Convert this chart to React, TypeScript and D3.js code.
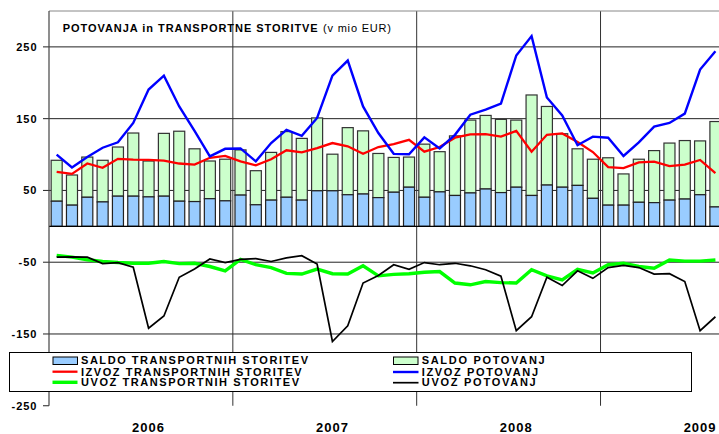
import React from "react";
import * as d3 from "d3";

// ---- data (v mio EUR), Jan 2006 – Aug 2009 ----
const months = [
  "2006-01","2006-02","2006-03","2006-04","2006-05","2006-06","2006-07","2006-08","2006-09","2006-10","2006-11","2006-12",
  "2007-01","2007-02","2007-03","2007-04","2007-05","2007-06","2007-07","2007-08","2007-09","2007-10","2007-11","2007-12",
  "2008-01","2008-02","2008-03","2008-04","2008-05","2008-06","2008-07","2008-08","2008-09","2008-10","2008-11","2008-12",
  "2009-01","2009-02","2009-03","2009-04","2009-05","2009-06","2009-07","2009-08",
];
const years = ["2006", "2007", "2008", "2009"];
const yTicks = [250, 150, 50, -50, -150, -250];

const saldoTransport = [
  35, 29.5, 40.5, 34, 42, 42, 41, 42, 35, 34.5, 38.5, 35.5,
  43.5, 30, 36.5, 40.5, 36.5, 49.5, 49.5, 44, 45, 40, 47.5, 54.5,
  40.5, 48, 43, 46.5, 52, 47, 54.5, 43, 57.5, 54.5, 57, 39,
  29.5, 29.5, 33.5, 33, 36.5, 38, 44, 27,
];
const saldoPotovanj = [
  57, 42, 56, 58, 68.5, 88, 50, 87.5, 97.5, 73.5, 52.5, 58,
  63, 47.5, 66.5, 91.5, 86, 101.5, 51, 93.5, 88, 61.5, 48.5, 42,
  74, 56, 83, 101.5, 102.5, 102, 93.5, 140, 109.5, 74.5, 51, 54.5,
  66, 43.5, 60, 72.5, 79.5, 81.5, 75, 119,
];
const izvozTransport = [
  76, 73, 87.5, 81.5, 94, 93, 92.5, 91.5, 87.5, 86, 95.5, 98,
  90.5, 85, 93.5, 106, 103, 109, 116, 111.5, 101, 110.5, 114.5, 120.5,
  104, 110.5, 123.5, 128, 128.5, 125, 133, 104, 127.5, 129.5, 117.5, 103.5,
  82.5, 81, 89, 90, 84, 86, 92.5, 74,
];
const izvozPotovanj = [
  100, 82, 96.5, 109.5, 117, 144, 190.5, 210, 167, 133, 97.5, 108,
  108.5, 90.5, 116, 134.5, 126, 151, 210, 231, 167, 130, 101, 100.5,
  124, 108.5, 127.5, 155.5, 162.5, 171, 238, 265, 179.5, 154.5, 113, 125,
  123.5, 98, 117, 139, 144, 157, 218.5, 244,
];
const uvozTransport = [
  -40.5, -43, -46.5, -49, -50.5, -51.5, -51.5, -49, -52, -51.5, -56, -62,
  -46, -53.5, -57.5, -65.5, -66.5, -59.5, -66, -66.5, -55, -69, -67, -66,
  -64, -63, -79, -81.5, -77, -78.5, -79, -60.5, -69, -74.5, -60, -65,
  -53.5, -51.5, -56, -58.5, -47, -48.5, -48.5, -47,
];
const uvozPotovanj = [
  -43, -42.5, -43, -52, -50.5, -57, -142, -125, -71, -59.5, -45.5, -50.5,
  -46, -45, -49, -44, -41, -52.5, -160.5, -138.5, -79, -68.5, -53.5, -60,
  -50.5, -53.5, -51.5, -55, -60.5, -69.5, -145.5, -126, -71, -82.5, -62, -72.5,
  -57.5, -54.5, -57.5, -66.5, -66, -77, -145.5, -126,
];

const FONT = "'Liberation Sans', Arial, sans-serif";
const W = 719;
const H = 434;
const LEFT = 49;
const TOP = 11;
const BOTTOM = 405.75;
const STEP = 15.32;

export default function App() {
  const slots = d3.range(years.length * 12);
  const x = d3
    .scaleBand<number>()
    .domain(slots)
    .range([LEFT, LEFT + slots.length * STEP])
    .paddingInner(0.28)
    .paddingOuter(0.14);
  const y = d3.scaleLinear().domain([-250, 300]).range([BOTTOM, TOP]);
  const cx = (i: number) => (x(i) as number) + x.bandwidth() / 2;
  const right = LEFT + slots.length * STEP;

  const line = d3
    .line<number>()
    .x((_, i) => cx(i))
    .y((d) => y(d));

  const series = [
    { data: izvozTransport, color: "#FF0000", w: 2.3 },
    { data: uvozTransport, color: "#00FF00", w: 3.4 },
    { data: izvozPotovanj, color: "#0000FF", w: 2.4 },
    { data: uvozPotovanj, color: "#000000", w: 1.7 },
  ];

  const gridVals = yTicks.filter((v) => v !== -250);

  return (
    <div style={{ position: "absolute", left: 0, top: 0 }}>
      <svg width={W} height={H} style={{ display: "block", background: "#fff" }} fontFamily={FONT}>
        {/* grid */}
        {gridVals.map((v) => (
          <line key={"g" + v} x1={LEFT} x2={right} y1={y(v)} y2={y(v)} stroke="#222" strokeWidth={1} />
        ))}
        {/* year separators */}
        {years.slice(1).map((yr, k) => {
          const xv = LEFT + (k + 1) * 12 * STEP;
          return <line key={"ys" + yr} x1={xv} x2={xv} y1={TOP} y2={BOTTOM} stroke="#333" strokeWidth={1} />;
        })}
        {/* top border */}
        <line x1={LEFT} x2={right} y1={TOP} y2={TOP} stroke="#888" strokeWidth={1} />
        {/* ticks & labels */}
        {yTicks.map((v) => (
          <g key={"t" + v}>
            <line x1={LEFT - 6} x2={LEFT} y1={y(v)} y2={y(v)} stroke="#222" strokeWidth={1} />
            <text
              x={37.5}
              y={y(v)}
              dy="0.36em"
              textAnchor="end"
              fontSize={11}
              fontWeight="bold"
              letterSpacing={1}
              fill="#000"
            >
              {v}
            </text>
          </g>
        ))}
        {/* bars */}
        {months.map((m, i) => {
          const b0 = y(0);
          const b1 = y(saldoTransport[i]);
          const b2 = y(saldoTransport[i] + saldoPotovanj[i]);
          return (
            <g key={m}>
              <rect
                x={x(i)}
                y={b2}
                width={x.bandwidth()}
                height={b1 - b2}
                fill="#CCFFCC"
                stroke="#333"
                strokeWidth={1.2}
              />
              <rect
                x={x(i)}
                y={b1}
                width={x.bandwidth()}
                height={b0 - b1}
                fill="#99CCFF"
                stroke="#222"
                strokeWidth={1.2}
              />
            </g>
          );
        })}
        {/* axes */}
        <line x1={LEFT} x2={right} y1={y(0)} y2={y(0)} stroke="#000" strokeWidth={1.2} />
        <line x1={LEFT} x2={LEFT} y1={TOP} y2={BOTTOM} stroke="#444" strokeWidth={1.2} />
        {/* lines */}
        {series.map((s, k) => (
          <path
            key={"s" + k}
            d={line(s.data) as string}
            fill="none"
            stroke={s.color}
            strokeWidth={s.w}
            strokeLinejoin="miter"
          />
        ))}
        {/* title */}
        <text x={62.7} y={31.5} fontSize={11} fontWeight="bold" textLength={255} lengthAdjust="spacing">
          POTOVANJA in TRANSPORTNE STORITVE
        </text>
        <text x={323} y={31.5} fontSize={11} textLength={68} lengthAdjust="spacing">
          (v mio EUR)
        </text>
        {/* year labels */}
        {years.map((yr, k) => (
          <text
            key={"y" + yr}
            x={cx(k * 12 + 6)}
            y={432}
            textAnchor="middle"
            fontSize={13}
            fontWeight="bold"
            letterSpacing={1}
          >
            {yr}
          </text>
        ))}
        {/* legend */}
        <rect x={9.5} y={352.5} width={682} height={39} fill="#fff" stroke="#000" strokeWidth={1} />
        <rect x={53} y={357} width={24.5} height={7.5} fill="#99CCFF" stroke="#000" strokeWidth={1} />
        <line x1={52.5} x2={77.5} y1={371.7} y2={371.7} stroke="#FF0000" strokeWidth={2.3} />
        <line x1={52.5} x2={77.5} y1={382.3} y2={382.3} stroke="#00FF00" strokeWidth={3.4} />
        <text x={81} y={364.3} fontSize={11} fontWeight="bold" textLength={227} lengthAdjust="spacing">
          SALDO TRANSPORTNIH STORITEV
        </text>
        <text x={81} y={375.7} fontSize={11} fontWeight="bold" textLength={220.7} lengthAdjust="spacing">
          IZVOZ TRANSPORTNIH STORITEV
        </text>
        <text x={81} y={386.3} fontSize={11} fontWeight="bold" textLength={218} lengthAdjust="spacing">
          UVOZ TRANSPORTNIH STORITEV
        </text>
        <rect x={393.5} y={357} width={24.5} height={7.5} fill="#CCFFCC" stroke="#000" strokeWidth={1} />
        <line x1={393} x2={418.5} y1={372} y2={372} stroke="#0000FF" strokeWidth={2.4} />
        <line x1={393} x2={418.5} y1={382.7} y2={382.7} stroke="#000000" strokeWidth={1.7} />
        <text x={421.7} y={364.3} fontSize={11} fontWeight="bold" textLength={123} lengthAdjust="spacing">
          SALDO POTOVANJ
        </text>
        <text x={421.7} y={375.7} fontSize={11} fontWeight="bold" textLength={116.3} lengthAdjust="spacing">
          IZVOZ POTOVANJ
        </text>
        <text x={421.7} y={386.3} fontSize={11} fontWeight="bold" textLength={114} lengthAdjust="spacing">
          UVOZ POTOVANJ
        </text>
      </svg>
    </div>
  );
}
